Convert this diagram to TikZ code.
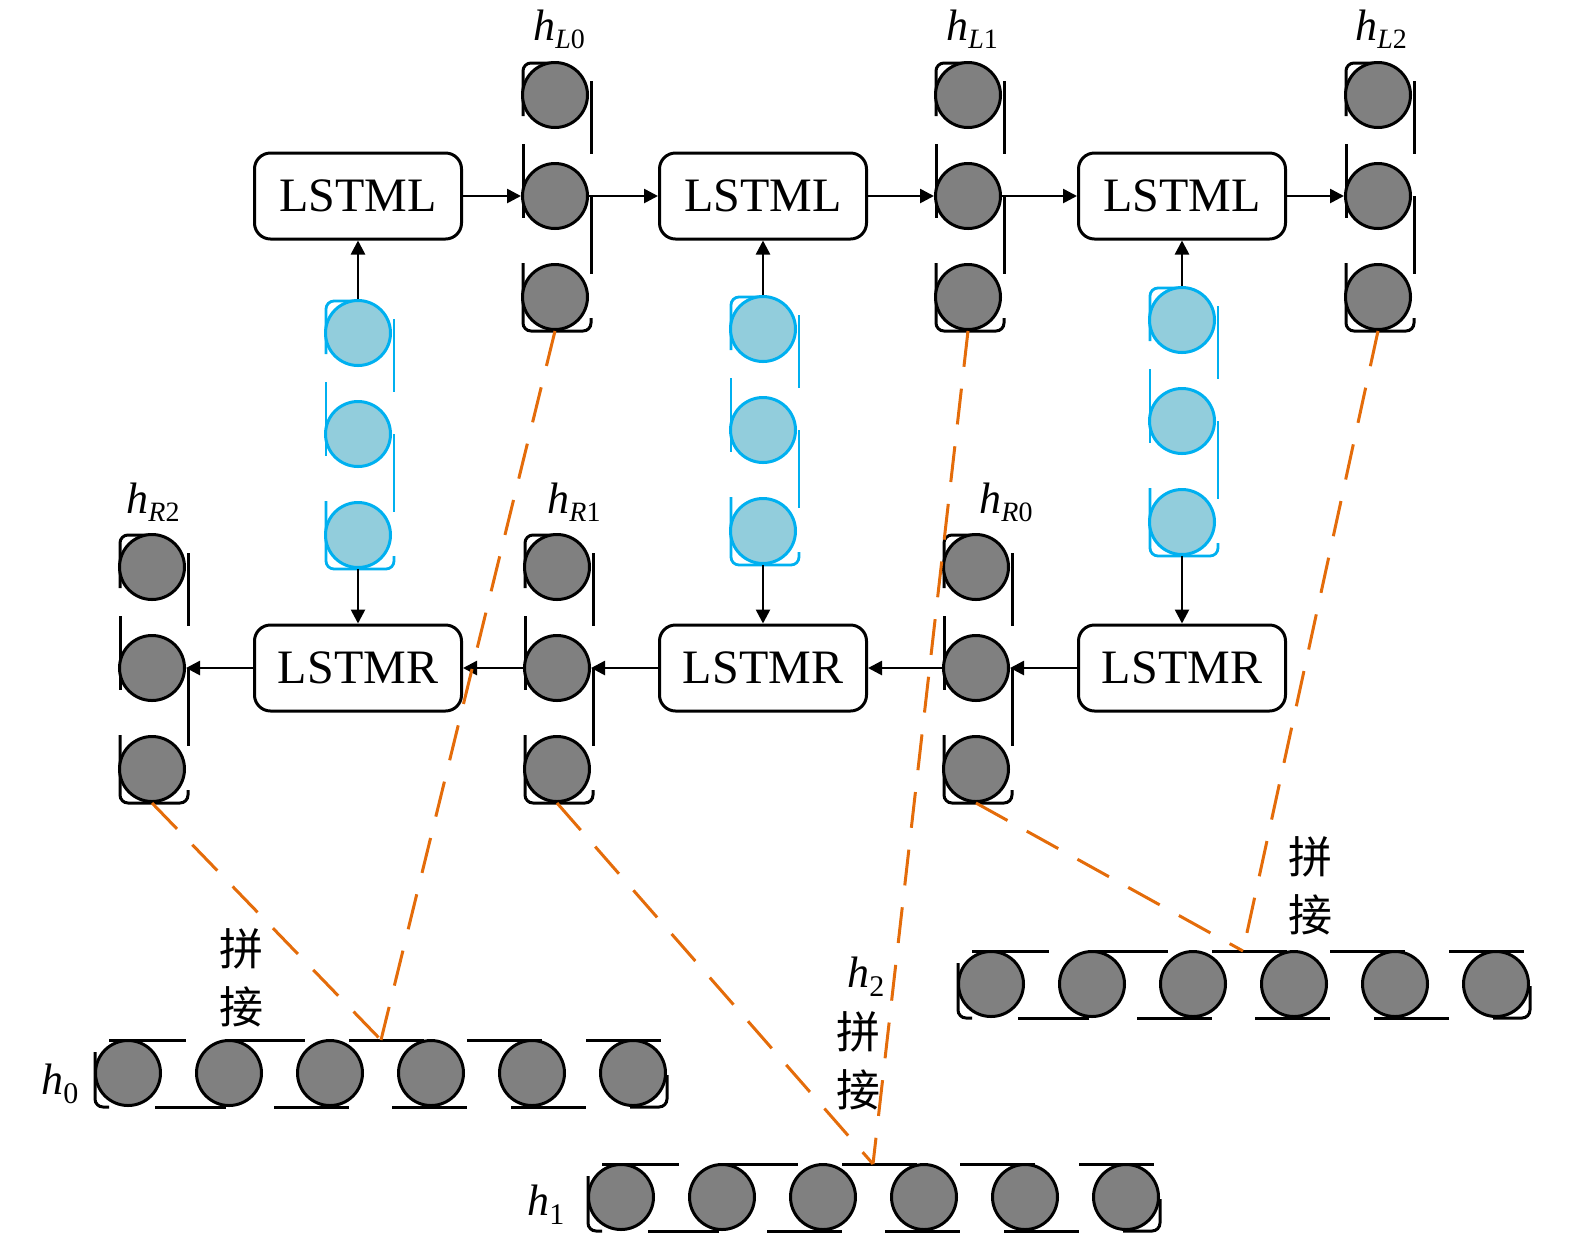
\documentclass[tikz,border=0pt]{standalone}
\usepackage{fontspec}
\setmainfont{Liberation Serif}
\newfontfamily\cjk{Noto Sans CJK SC}
\usetikzlibrary{arrows.meta}
\definecolor{gfill}{RGB}{128,128,128}
\definecolor{bfill}{RGB}{146,205,220}
\definecolor{bline}{RGB}{0,176,240}
\definecolor{orng}{RGB}{228,108,10}
\tikzset{
 gcirc/.style={circle,draw=black,fill=gfill,line width=1.5pt,minimum size=32.5pt,inner sep=0pt},
 bcirc/.style={circle,draw=bline,fill=bfill,line width=1.5pt,minimum size=32.5pt,inner sep=0pt},
 gframe/.style={draw=black,line width=1.5pt,rounded corners=4pt},
 bframe/.style={draw=bline,line width=1.4pt,rounded corners=4pt},
 lstm/.style={draw,rounded corners=8pt,line width=1.5pt,minimum width=103.5pt,minimum height=43pt,inner sep=0pt,font=\fontsize{24}{24}\selectfont},
 arr/.style={line width=1.3pt,-{Triangle[length=7pt,width=7pt]}},
 oline/.style={draw=orng,line width=1.5pt,dash pattern=on 18pt off 11pt},
 lab/.style={anchor=base west,inner sep=0pt},
 cj/.style={inner sep=0pt,font=\cjk\fontsize{22}{22}\selectfont},
}
\newcommand\hsubl[2]{{\fontsize{22}{22}\selectfont\itshape h}\raisebox{-4pt}{\fontsize{14}{14}\selectfont\itshape #1\upshape #2}}
\newcommand\hsubd[1]{{\fontsize{22}{22}\selectfont\itshape h}\raisebox{-4.5pt}{\fontsize{15}{15}\selectfont #1}}
\newcommand\vcol[5]{%
 \begin{scope}[shift={(#2,-#3)}]
  \draw[#4] (0,133) -- (-32,133) -- (-32,80);
  \draw[#4] (-32,52) -- (-32,-22);
  \draw[#4] (-32,-67) -- (-32,-135) -- (36,-135) -- (36,-122);
  \draw[#4] (36,115) -- (36,42);
  \draw[#4] (36,0) -- (36,-78);
  \node[#5] (#1-1) at (0,101) {};
  \node[#5] (#1-2) at (0,0) {};
  \node[#5] (#1-3) at (0,-101) {};
 \end{scope}}
\newcommand\hrow[3]{%
 \begin{scope}[shift={(#2,-#3)}]
  \foreach \a/\b in {-19/58,100/177,221/296,339/414,458/533} \draw[gframe] (\a,33) -- (\b,33);
  \draw[gframe] (-33,21) -- (-33,-34) -- (-19,-34);
  \foreach \a/\b in {27/98,146/221,264/339,383/458} \draw[gframe] (\a,-34) -- (\b,-34);
  \draw[gframe] (502,-34) -- (539,-34) -- (539,-2);
  \foreach \i in {1,...,6} \node[gcirc] (#1-\i) at ({(\i-1)*101},0) {};
 \end{scope}}
\begin{document}
\begin{tikzpicture}[x=0.5pt,y=0.5pt]
\useasboundingbox (0,0) rectangle (1575,-1239);
% columns
\vcol{hL0}{555}{196}{gframe}{gcirc}
\vcol{hL1}{968}{196}{gframe}{gcirc}
\vcol{hL2}{1378}{196}{gframe}{gcirc}
\vcol{hR2}{152}{668}{gframe}{gcirc}
\vcol{hR1}{557}{668}{gframe}{gcirc}
\vcol{hR0}{976}{668}{gframe}{gcirc}
\vcol{b1}{358}{434}{bframe}{bcirc}
\vcol{b2}{763}{430}{bframe}{bcirc}
\vcol{b3}{1182}{421}{bframe}{bcirc}
% rows
\hrow{h0}{128}{1073}
\hrow{h1}{621}{1197}
\hrow{h2}{991}{984}
% boxes
\node[lstm] (L1) at (358,-196) {LSTML};
\node[lstm] (L2) at (763,-196) {LSTML};
\node[lstm] (L3) at (1182,-196) {LSTML};
\node[lstm] (R1) at (358,-668) {LSTMR};
\node[lstm] (R2) at (763,-668) {LSTMR};
\node[lstm] (R3) at (1182,-668) {LSTMR};
% vertical arrows
\draw[arr] (b1-1) -- (L1);
\draw[arr] (b2-1) -- (L2);
\draw[arr] (b3-1) -- (L3);
\draw[arr] (b1-3) -- (R1);
\draw[arr] (b2-3) -- (R2);
\draw[arr] (b3-3) -- (R3);
% horizontal arrows
\draw[arr] (L1) -- (hL0-2);
\draw[arr] (hL0-2) -- (L2);
\draw[arr] (L2) -- (hL1-2);
\draw[arr] (hL1-2) -- (L3);
\draw[arr] (L3) -- (hL2-2);
\draw[arr] (R3) -- (hR0-2);
\draw[arr] (hR0-2) -- (R2);
\draw[arr] (R2) -- (hR1-2);
\draw[arr] (hR1-2) -- (R1);
\draw[arr] (R1) -- (hR2-2);
% labels
\node[lab] (tL0) at (533,-40) {\hsubl{L}{0}};
\node[lab] (tL1) at (946,-40) {\hsubl{L}{1}};
\node[lab] (tL2) at (1355,-40) {\hsubl{L}{2}};
\node[lab] (tR2) at (126,-513) {\hsubl{R}{2}};
\node[lab] (tR1) at (547,-513) {\hsubl{R}{1}};
\node[lab] (tR0) at (979,-513) {\hsubl{R}{0}};
\node[lab] (t0) at (41,-1094) {\hsubd{0}};
\node[lab] (t1) at (527,-1215) {\hsubd{1}};
\node[lab] (t2) at (847,-987) {\hsubd{2}};
\node[cj] (c1a) at (241,-949) {拼};
\node[cj] (c1b) at (241,-1007) {接};
\node[cj] (c2a) at (858,-1032) {拼};
\node[cj] (c2b) at (858,-1090) {接};
\node[cj] (c3a) at (1310,-857) {拼};
\node[cj] (c3b) at (1310,-915) {接};
% orange concatenation lines
\coordinate (m0) at (381,-1040);
\coordinate (m1) at (873,-1164);
\coordinate (m2) at (1243,-951);
\draw[oline] (hL0-3.south) -- (m0);
\draw[oline] (hR2-3.south) -- (m0);
\draw[oline] (hL1-3.south) -- (m1);
\draw[oline] (hR1-3.south) -- (m1);
\draw[oline] (hL2-3.south) -- (m2);
\draw[oline] (hR0-3.south) -- (m2);
\end{tikzpicture}
\end{document}
